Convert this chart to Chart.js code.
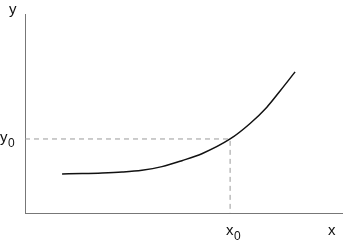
<!DOCTYPE html>
<html>
<head>
<meta charset="utf-8">
<script src="https://cdn.jsdelivr.net/npm/chart.js@4"></script>
<style>
  html, body { margin: 0; padding: 0; background: #fff; }
</style>
</head>
<body>
<canvas id="curveChart" width="344" height="246"></canvas>
<script>
// curve points (axis units 0..10)
var curveX = [1.17, 1.80, 2.43, 3.06, 3.69, 4.32, 4.95, 5.58, 6.47, 7.10, 7.63, 8.04, 8.52];
var curveY = [1.96, 1.98, 2.01, 2.06, 2.15, 2.33, 2.63, 2.98, 3.72, 4.50, 5.32, 6.12, 7.09];

// marked point (x0, y0)
var pointX0 = 6.47;
var pointY0 = 3.72;

var axisLabels = { x: 'x', y: 'y', x0: 'x', y0: 'y', sub: '0' };

var curveData = curveX.map(function(x, i) { return { x: x, y: curveY[i] }; });
var guideData = [{ x: 0, y: pointY0 }, { x: pointX0, y: pointY0 }, { x: pointX0, y: 0 }];

// text labels next to the axes
var labelPlugin = {
    id: 'labels',
    afterDraw: function(chart) {
        var c = chart.ctx;
        var xs = chart.scales.x, ys = chart.scales.y;
        var area = chart.chartArea;
        c.save();
        c.fillStyle = '#111';
        c.textBaseline = 'alphabetic';
        c.textAlign = 'left';
        c.font = '15px "Liberation Sans", Arial, sans-serif';
        c.fillText(axisLabels.y, 9, 14);
        c.fillText(axisLabels.x, area.right - 14, area.bottom + 22);

        // y0
        var py = ys.getPixelForValue(pointY0);
        c.fillText(axisLabels.y0, 0, py + 3);
        c.font = '12px "Liberation Sans", Arial, sans-serif';
        c.fillText(axisLabels.sub, 8, py + 8);

        // x0
        var px = xs.getPixelForValue(pointX0);
        c.font = '15px "Liberation Sans", Arial, sans-serif';
        c.fillText(axisLabels.x0, px - 4, area.bottom + 22);
        c.font = '12px "Liberation Sans", Arial, sans-serif';
        c.fillText(axisLabels.sub, px + 4, area.bottom + 27);
        c.restore();
    }
};

var ctx = document.getElementById('curveChart').getContext('2d');
var curveChart = new Chart(ctx, {
    type: 'scatter',
    data: {
        datasets: [{
            data: guideData,
            showLine: true,
            borderColor: '#999',
            borderWidth: 1,
            borderDash: [5, 4],
            pointRadius: 0,
            tension: 0
        }, {
            data: curveData,
            showLine: true,
            borderColor: '#111',
            borderWidth: 1.5,
            pointRadius: 0,
            cubicInterpolationMode: 'monotone'
        }]
    },
    options: {
        responsive: false,
        animation: false,
        layout: { padding: { left: 25, top: 14, right: 2, bottom: 33 } },
        plugins: { legend: { display: false }, tooltip: { enabled: false } },
        scales: {
            x: {
                type: 'linear', min: 0, max: 10,
                grid: { display: false, drawTicks: false },
                border: { display: true, color: '#777', width: 1 },
                ticks: { display: false }
            },
            y: {
                type: 'linear', min: 0, max: 10,
                grid: { display: false, drawTicks: false },
                border: { display: true, color: '#777', width: 1 },
                ticks: { display: false }
            }
        }
    },
    plugins: [labelPlugin]
});
</script>
</body>
</html>
